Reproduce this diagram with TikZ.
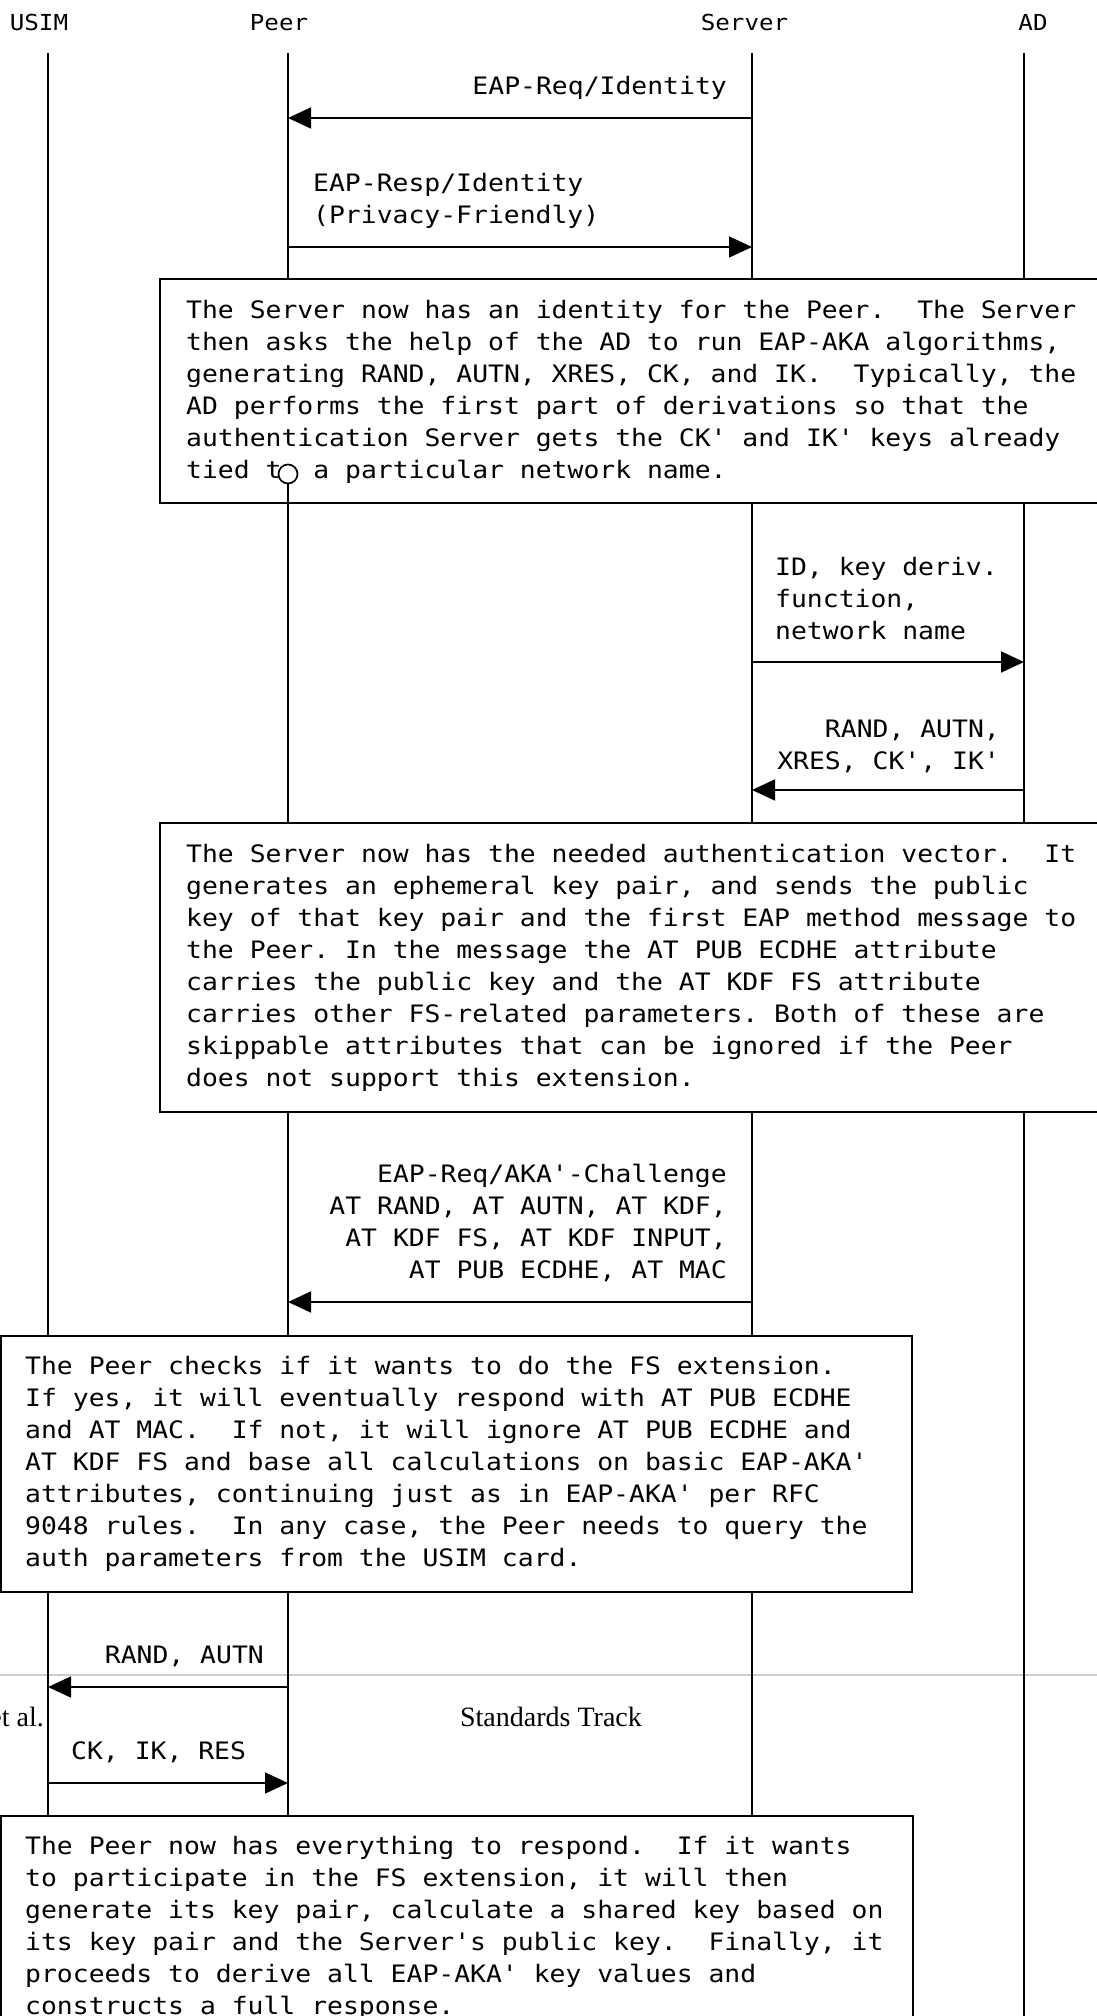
\documentclass[tikz,border=0pt]{standalone}
\usepackage{fontspec}
\setmonofont[FakeStretch=1.1]{DejaVu Sans Mono}
\newfontfamily\footfont{Liberation Serif}
\usetikzlibrary{arrows.meta, positioning}
\newcommand{\msgfont}{\fontsize{24pt}{32pt}\selectfont\ttfamily\frenchspacing}

\begin{document}
\begin{tikzpicture}[x=1pt, y=1pt, every node/.style={font=\msgfont, inner sep=0pt},
        lifeline/.style={line width=1.7pt},
        msg/.style={line width=1.7pt, -{Triangle[length=23pt, width=21pt]}},
        notebox/.style={draw, line width=1.7pt, fill=white, anchor=north west},
        note/.style={anchor=base west, align=left},
        lblr/.style={anchor=base east, align=right},
        lbll/.style={anchor=base west, align=left},
        actor/.style={anchor=base, font={\fontsize{22pt}{26pt}\selectfont\ttfamily}},
        foot/.style={font={\fontsize{28pt}{34pt}\footfont}}]
        \useasboundingbox (0,0) rectangle (1097,-2016);

        % page footer
        \draw[black!20, line width=2.5pt] (-5,-1675) -- (1102,-1675);
        \node[foot, anchor=base east] (etal) at (44,-1726) {et al.};
        \node[foot, anchor=base] (track) at (551,-1726) {Standards Track};

        % actors and lifelines
        \node[actor] (usimhd) at (39,-30) {USIM};
        \node[actor] (peerhd) at (279,-30) {Peer};
        \node[actor] (serverhd) at (744.5,-30) {Server};
        \node[actor] (adhd) at (1033,-30) {AD};
        \foreach \n/\x in {usim/48, peer/288, server/752, ad/1024} {
                \coordinate (\n) at (\x,-53);
                \coordinate (\n end) at (\x,-2020);
                \draw[lifeline] (\n) -- (\n end);
        }

        % multi-line texts sit on the baseline of their last line
        \coordinate (m1) at (0,-118);
        \node[lblr] (l1) at (727,-94) {EAP-Req/Identity};
        \draw[msg] (server |- m1) -- (peer |- m1);

        \coordinate (m2) at (0,-247);
        \node[lbll] (l2) at (313,-223) {EAP-Resp/Identity\\(Privacy-Friendly)};
        \draw[msg] (peer |- m2) -- (server |- m2);

        \node[notebox, minimum width=1000pt, minimum height=224pt] (box1) at (159,-278) {};
        \node[note] (t1) at (186,-478) {The Server now has an identity for the Peer.~ The Server\\
                then asks the help of the AD to run EAP-AKA algorithms,\\
                generating RAND, AUTN, XRES, CK, and IK.~ Typically, the\\
                AD performs the first part of derivations so that the\\
                authentication Server gets the CK' and IK' keys already\\
                tied to a particular network name.};
        \node[circle, draw, fill=white, line width=1.7pt, minimum size=19pt] (tie) at (288,-474) {};
        \draw[lifeline] (tie) -- (peer |- box1.south);

        \coordinate (m3) at (0,-662);
        \node[lbll] (l3) at (775,-639) {ID, key deriv.\\function,\\network name};
        \draw[msg] (server |- m3) -- (ad |- m3);

        \coordinate (m4) at (0,-790);
        \node[lblr] (l4) at (1000,-769) {RAND, AUTN,\\XRES, CK', IK'};
        \draw[msg] (ad |- m4) -- (server |- m4);

        \node[notebox, minimum width=1000pt, minimum height=289pt] (box2) at (159,-822) {};
        \node[note] (t2) at (186,-1086) {The Server now has the needed authentication vector.~ It\\
                generates an ephemeral key pair, and sends the public\\
                key of that key pair and the first EAP method message to\\
                the Peer. In the message the AT PUB ECDHE attribute\\
                carries the public key and the AT KDF FS attribute\\
                carries other FS-related parameters. Both of these are\\
                skippable attributes that can be ignored if the Peer\\
                does not support this extension.};

        \coordinate (m5) at (0,-1302);
        \node[lblr] (l5) at (727,-1278) {EAP-Req/AKA'-Challenge\\AT RAND, AT AUTN, AT KDF,\\
                AT KDF FS, AT KDF INPUT,\\AT PUB ECDHE, AT MAC};
        \draw[msg] (server |- m5) -- (peer |- m5);

        \node[notebox, minimum width=910.5pt, minimum height=256pt] (box3) at (0.5,-1335) {};
        \node[note] (t3) at (25,-1566) {The Peer checks if it wants to do the FS extension.\\
                If yes, it will eventually respond with AT PUB ECDHE\\
                and AT MAC.~ If not, it will ignore AT PUB ECDHE and\\
                AT KDF FS and base all calculations on basic EAP-AKA'\\
                attributes, continuing just as in EAP-AKA' per RFC\\
                9048 rules.~ In any case, the Peer needs to query the\\
                auth parameters from the USIM card.};

        \coordinate (m6) at (0,-1687);
        \node[lblr] (l6) at (264,-1663) {RAND, AUTN};
        \draw[msg] (peer |- m6) -- (usim |- m6);

        \coordinate (m7) at (0,-1783);
        \node[lbll] (l7) at (71,-1759) {CK, IK, RES};
        \draw[msg] (usim |- m7) -- (peer |- m7);

        \node[notebox, minimum width=911.5pt, minimum height=300pt] (box4) at (0.5,-1815) {};
        \node[note] (t4) at (25,-2014) {The Peer now has everything to respond.~ If it wants\\
                to participate in the FS extension, it will then\\
                generate its key pair, calculate a shared key based on\\
                its key pair and the Server's public key.~ Finally, it\\
                proceeds to derive all EAP-AKA' key values and\\
                constructs a full response.};
\end{tikzpicture}
\end{document}
